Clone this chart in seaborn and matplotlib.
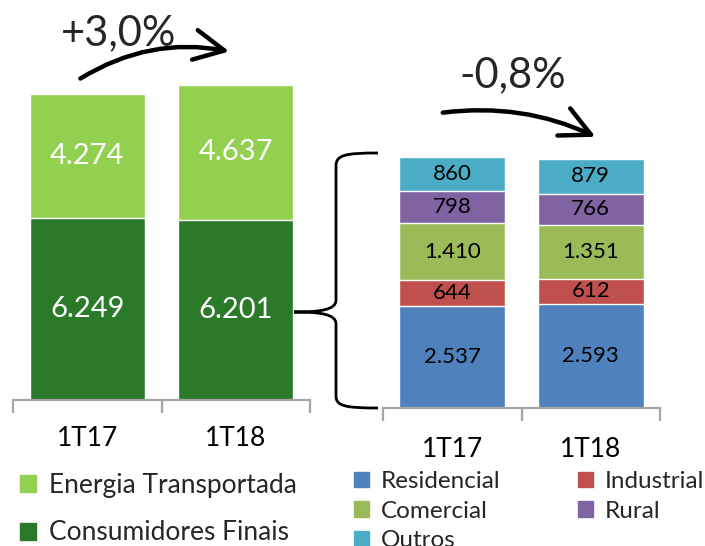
import matplotlib
matplotlib.use('Agg')
import matplotlib.pyplot as plt
import seaborn as sns
import numpy as np
from matplotlib.patches import Patch, FancyArrowPatch, PathPatch
from matplotlib.path import Path

# -------------------------------------------------------------
# Data
# -------------------------------------------------------------
quarters = ["1T17", "1T18"]
consumidores_finais = [6249, 6201]
energia_transportada = [4274, 4637]

segments = ["Residencial", "Industrial", "Comercial", "Rural", "Outros"]
residencial = [2537, 2593]
industrial = [644, 612]
comercial = [1410, 1351]
rural = [798, 766]
outros = [860, 879]

left_change = "+3,0%"
right_change = "-0,8%"

# colours
LIGHT_GREEN = "#92D050"
DARK_GREEN = "#2A7A29"
seg_colors = ["#4F81BD", "#C0504D", "#9BBB59", "#8064A2", "#4BACC6"]
AXIS_GREY = "#A6A6A6"

W, H = 705, 546


def fx(px):
    return px / W


def fy(py):
    return 1 - py / H


sns.set_theme(style="white")
plt.rcParams['font.family'] = ['Lato', 'DejaVu Sans']

fig = plt.figure(figsize=(W / 100, H / 100), dpi=100)


def style_axis(ax, pad):
    for side in ["top", "left", "right"]:
        ax.spines[side].set_visible(False)
    ax.spines["bottom"].set_color(AXIS_GREY)
    ax.spines["bottom"].set_linewidth(1.6)
    ax.set_xlim(-0.5, 1.5)
    ax.set_xticks([-0.5, 0.5, 1.5], minor=True)
    ax.tick_params(axis="x", which="minor", length=9, width=1.6,
                   color=AXIS_GREY, direction="out", bottom=True)
    ax.tick_params(axis="x", which="major", length=0, pad=pad,
                   labelsize=19, labelcolor="black")
    ax.set_yticks([])
    ax.set_xlabel("")
    ax.set_ylabel("")
    ax.patch.set_alpha(0)


def fmt(v):
    return f"{v:,}".replace(",", ".")


# -------------------------------------------------------------
# Left chart: total energy
# -------------------------------------------------------------
px_left = 0.0291  # pixels per unit
ax1 = fig.add_axes([fx(13), fy(400), 297 / W, 400 / H])
totals = np.array(consumidores_finais) + np.array(energia_transportada)
sns.barplot(x=quarters, y=totals, color=LIGHT_GREEN, saturation=1,
            width=0.775, ax=ax1)
sns.barplot(x=quarters, y=consumidores_finais, color=DARK_GREEN,
            saturation=1, width=0.775, ax=ax1)
ax1.set_ylim(0, 400 / px_left)
style_axis(ax1, 19)

for i in range(len(quarters)):
    ax1.text(i, consumidores_finais[i] / 2, fmt(consumidores_finais[i]),
             ha="center", va="center", color="white", fontsize=21)
    ax1.text(i, consumidores_finais[i] + energia_transportada[i] / 2,
             fmt(energia_transportada[i]),
             ha="center", va="center", color="white", fontsize=21)

# -------------------------------------------------------------
# Right chart: consumption by segment
# -------------------------------------------------------------
px_right = 0.0402
ax2 = fig.add_axes([fx(383), fy(408), 277 / W, 408 / H])
stack = np.array([residencial, industrial, comercial, rural, outros])
cum = np.cumsum(stack, axis=0)
for k in range(len(segments) - 1, -1, -1):
    sns.barplot(x=quarters, y=cum[k], color=seg_colors[k], saturation=1,
                width=0.765, ax=ax2)
ax2.set_ylim(0, 408 / px_right)
style_axis(ax2, 21)

for k in range(len(segments)):
    for i in range(len(quarters)):
        val = stack[k, i]
        ax2.text(i, cum[k, i] - val / 2, fmt(val),
                 ha="center", va="center", color="black", fontsize=16)

# -------------------------------------------------------------
# Arrows and change labels
# -------------------------------------------------------------
arrow_kw = dict(transform=fig.transFigure, mutation_scale=24, lw=3.2,
                color="black", fill=False)
arr1 = FancyArrowPatch((fx(78), fy(80)), (fx(232), fy(52)),
                       connectionstyle="arc3,rad=-0.2", **arrow_kw)
arr1.set_arrowstyle("->,head_length=0.9,head_width=0.45")
fig.add_artist(arr1)
arr2 = FancyArrowPatch((fx(440), fy(113)), (fx(598), fy(138)),
                       connectionstyle="arc3,rad=-0.15", **arrow_kw)
arr2.set_arrowstyle("->,head_length=0.9,head_width=0.45")
fig.add_artist(arr2)

fig.text(fx(119), fy(33), left_change, ha="center", va="center", fontsize=30)
fig.text(fx(513), fy(75), right_change, ha="center", va="center", fontsize=30)

# -------------------------------------------------------------
# Brace linking the two charts
# -------------------------------------------------------------
pts = [(378, 153), (345, 153), (336, 155), (336, 166),
       (336, 300), (336, 310), (320, 312), (294, 312),
       (320, 312), (336, 314), (336, 324),
       (336, 396), (336, 406), (345, 408), (378, 408)]
codes = [Path.MOVETO, Path.CURVE4, Path.CURVE4, Path.CURVE4,
         Path.LINETO, Path.CURVE4, Path.CURVE4, Path.CURVE4,
         Path.CURVE4, Path.CURVE4, Path.CURVE4,
         Path.LINETO, Path.CURVE4, Path.CURVE4, Path.CURVE4]
brace = Path([(fx(x), fy(y)) for x, y in pts], codes)
fig.add_artist(PathPatch(brace, transform=fig.transFigure, fill=False,
                         lw=2, edgecolor="black"))

# -------------------------------------------------------------
# Legends
# -------------------------------------------------------------
left_handles = [Patch(color=LIGHT_GREEN), Patch(color=DARK_GREEN)]
fig.legend(left_handles, ["Energia Transportada", "Consumidores Finais"],
           loc="upper left", bbox_to_anchor=(fx(20), fy(473)), frameon=False,
           fontsize=19, handlelength=0.6, handleheight=0.6, handletextpad=0.5,
           labelspacing=0.85, borderaxespad=0, borderpad=0)

right_handles = [Patch(color=c) for c in seg_colors]
order = [0, 2, 4, 1, 3]
fig.legend([right_handles[i] for i in order], [segments[i] for i in order],
           ncol=2, loc="upper left", bbox_to_anchor=(fx(354), fy(471)),
           frameon=False, fontsize=17.5, handlelength=0.6, handleheight=0.6,
           handletextpad=0.5, labelspacing=0.35, columnspacing=3.2,
           borderaxespad=0, borderpad=0)

fig.savefig("out.png", dpi=100)
